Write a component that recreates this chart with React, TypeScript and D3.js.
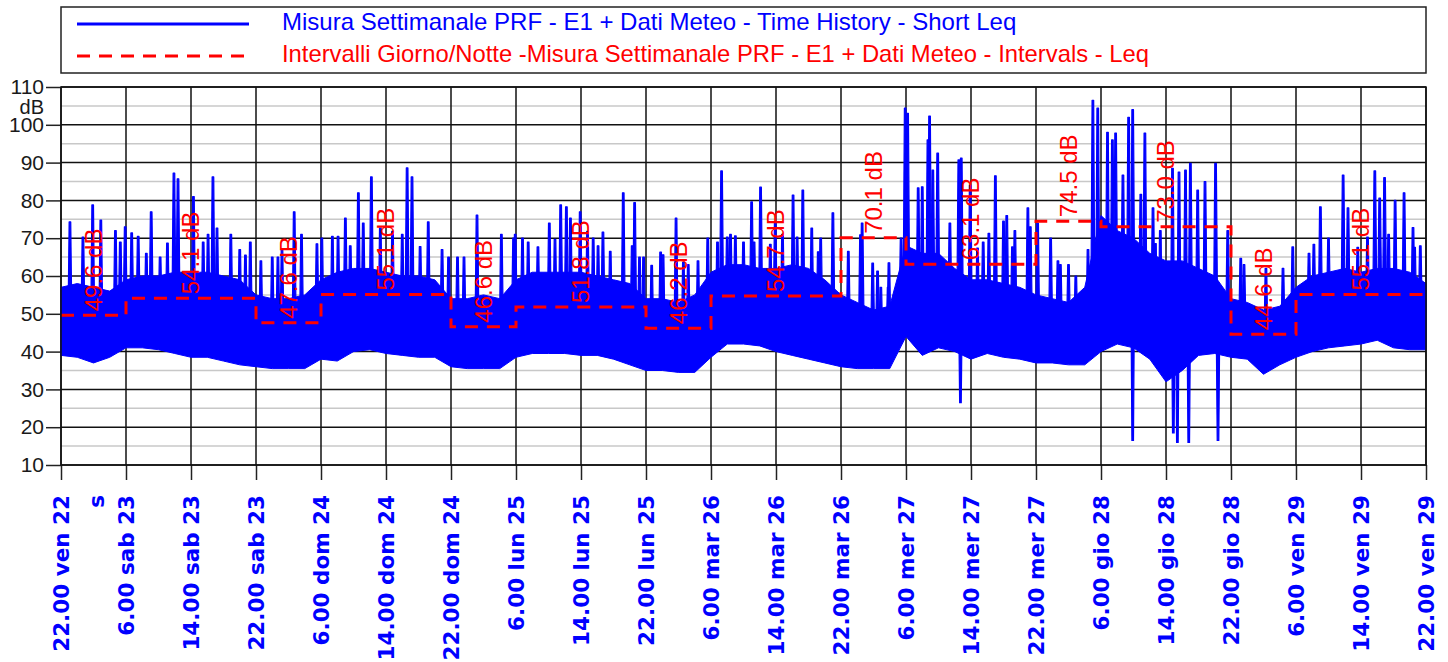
import React, { useEffect, useRef } from 'react';
import * as d3 from 'd3';

// x ticks every 8 hours, starting Fri 22 at 22.00
const tickLabels = [
  '22.00 ven 22', '6.00 sab 23', '14.00 sab 23', '22.00 sab 23', '6.00 dom 24', '14.00 dom 24',
  '22.00 dom 24', '6.00 lun 25', '14.00 lun 25', '22.00 lun 25', '6.00 mar 26', '14.00 mar 26',
  '22.00 mar 26', '6.00 mer 27', '14.00 mer 27', '22.00 mer 27', '6.00 gio 28', '14.00 gio 28',
  '22.00 gio 28', '6.00 ven 29', '14.00 ven 29', '22.00 ven 29',
];

// Short Leq envelope, one value every 2 hours (dB)
const bandLow = [
  39, 38.5, 37, 38.5, 41, 41, 40.5, 39.5, 38.5, 38.5,
  37.5, 36.5, 36, 35.5, 35.5, 35.5, 38, 37.5, 40, 40.5,
  39.5, 39, 38.5, 38.5, 36, 35.5, 35.5, 35.5, 38.5, 39.5,
  39.5, 39.5, 39, 39, 38, 36.5, 35, 35, 34.5, 34.5,
  38.5, 42, 42, 41.5, 40, 39, 38, 37, 36, 35.5,
  35.5, 35.5, 44, 39, 41, 40, 38, 39.5, 38.5, 38,
  37, 37, 36.5, 36.5, 40, 42, 41, 38, 32, 35,
  39, 39.5, 38.5, 38, 34, 36.5, 38.5, 40, 41, 41.5,
  42, 43, 41, 40.5, 40.5,
];
const bandHigh = [
  57, 58, 57, 56, 59, 60, 60, 61, 61, 61,
  60, 59, 55, 54, 54, 55, 59, 61, 62, 62,
  61, 60, 60, 59, 54, 54, 55, 54, 59, 61,
  61, 61, 61, 60, 59, 58, 54, 54, 53, 55,
  61, 63, 63, 62, 62, 63, 62, 59, 55, 53,
  51, 52, 68, 66, 66, 62, 59, 59, 58, 57,
  55, 54, 53, 57, 76, 72, 70, 66, 64, 64,
  62, 60, 54, 53, 51, 52, 57, 60, 61, 62,
  61, 62, 62, 61, 58,
];

// peaks: [hour from start, dB]
const peaks: [number, number][] = [
  [1.1, 74.3], [2.7, 70.3], [3.9, 78.8], [4.9, 74.8], [6.7, 72], [7.3, 69], [7.9, 73], [8.7, 71.4],
  [9.5, 70.5], [10.5, 66], [11.1, 77], [12.2, 65], [13.1, 68.7], [13.9, 87.2], [14.4, 85.7],
  [16.3, 81], [17.5, 69], [18.1, 71], [18.7, 86.2], [19.2, 72.7], [20.9, 71], [22.0, 67],
  [22.7, 65.5], [23.3, 69], [24.6, 64], [26.0, 65], [26.7, 65], [27.2, 66.8], [28.7, 77],
  [29.6, 71], [31.5, 68.5], [32.1, 70], [33.4, 70.5], [34.1, 70.5], [35.0, 75.3], [35.6, 68],
  [36.6, 82], [37.2, 74], [38.2, 86.2], [39.3, 72.7], [40.8, 71.8], [42.0, 71], [42.6, 88.6],
  [43.2, 86.2], [44.2, 67.8], [45.2, 74.3], [46.9, 67], [47.7, 65], [48.8, 65], [49.6, 65],
  [51.2, 76.1], [54.2, 71], [55.7, 70], [55.9, 71], [56.8, 70], [57.5, 69], [58.7, 67.7],
  [60.1, 74], [60.8, 69.7], [61.5, 78.8], [62.2, 78.3], [62.7, 75.3], [63.9, 77], [64.8, 71.8],
  [65.5, 70], [66.1, 68], [66.7, 71.6], [67.6, 66.5], [69.2, 82], [70.3, 68], [70.6, 79.4],
  [71.2, 65], [71.7, 65], [72.7, 62.8], [73.8, 66.3], [74.1, 65.6], [75.7, 75.3], [76.6, 63.6],
  [77.2, 63], [78.4, 64], [79.6, 70], [80.8, 69], [81.3, 87.8], [82.0, 70.3], [82.4, 71],
  [83.0, 70.6], [84.0, 69], [85.0, 79.6], [85.3, 69], [86.1, 83.5], [87.3, 68.4], [87.9, 74],
  [88.8, 71], [90.1, 81.4], [90.6, 70.3], [91.3, 82.7], [92.4, 72.7], [93.2, 66.4], [93.5, 70],
  [95.0, 76.7], [96.9, 66.5], [98.4, 70.9], [98.6, 74], [99.9, 63.4], [100.5, 61.3],
  [100.9, 57], [101.8, 57], [101.9, 63.5], [103.4, 70], [103.9, 104.4], [104.2, 103],
  [105.5, 83.3], [106.0, 83.6], [106.7, 96], [106.9, 102.3], [107.3, 88], [107.9, 92.5],
  [109.4, 74], [110.5, 90.7], [110.8, 91.2], [111.9, 84], [112.8, 67.4], [113.5, 69],
  [114.2, 71.3], [115.0, 86.5], [116.0, 74.5], [116.4, 76], [117.1, 67.7], [117.4, 72],
  [119.0, 78], [119.3, 73], [120.2, 74], [121.8, 70], [122.7, 64], [123.0, 63], [124.0, 63],
  [124.9, 60], [126.4, 67], [127.0, 106.5], [127.6, 104.4], [128.8, 98], [129.4, 96],
  [129.8, 97.8], [130.7, 86.7], [131.4, 102], [131.9, 104], [132.9, 81.6], [133.4, 97.8],
  [134.4, 78], [134.7, 68.6], [135.3, 72], [136.8, 88.5], [137.6, 87.5], [138.4, 88],
  [139.0, 89.8], [139.9, 82.7], [140.8, 85], [142.1, 89.8], [143.6, 72], [145.2, 64.7],
  [145.6, 63], [148.3, 62], [150.4, 62], [151.6, 67.7], [153.6, 66], [154.2, 68.4],
  [155.0, 78.3], [156.0, 70], [157.8, 86.7], [158.4, 78], [159.6, 67.6], [160.8, 70.3],
  [161.7, 87.8], [162.3, 80.6], [162.9, 86], [163.4, 71], [164.2, 80], [165.3, 82],
  [166.4, 72.8], [166.6, 67.6], [167.3, 68],
];

// downward drops: [hour from start, dB]
const drops: [number, number][] = [
  [110.7, 26.5], [131.9, 16.5], [136.9, 18.5], [137.4, 16], [138.8, 16], [142.4, 16.5],
];

// Day / night intervals
const intervalStart = [0, 8, 24, 32, 48, 56, 72, 80, 96, 104, 120, 128, 144, 152];
const intervalLeq = [49.6, 54.1, 47.6, 55.1, 46.6, 51.8, 46.2, 54.7, 70.1, 63.1, 74.5, 73.0, 44.6, 55.1];
const END_HOUR = 168;

const BLUE = '#0000ff';
const RED = '#ff0000';
const SANS = '"Liberation Sans", Arial, sans-serif';

const App: React.FC = () => {
  const svgRef = useRef<SVGSVGElement | null>(null);

  useEffect(() => {
    const svg = d3.select(svgRef.current);
    svg.selectAll('*').remove();

    const left = 61, right = 1426, top = 87, bottom = 465;
    const x = d3.scaleLinear().domain([0, END_HOUR]).range([left, right]);
    const y = d3.scaleLinear().domain([10, 110]).range([bottom, top]);

    // legend
    const lg = svg.append('g');
    lg.append('rect').attr('x', left).attr('y', 7).attr('width', right - left).attr('height', 66)
      .attr('fill', '#fff').attr('stroke', '#222').attr('stroke-width', 1.5);
    lg.append('line').attr('x1', 77).attr('x2', 249).attr('y1', 24).attr('y2', 24)
      .attr('stroke', BLUE).attr('stroke-width', 3);
    lg.append('line').attr('x1', 77).attr('x2', 249).attr('y1', 56).attr('y2', 56)
      .attr('stroke', RED).attr('stroke-width', 3).attr('stroke-dasharray', '13,9');
    lg.append('text').attr('x', 282).attr('y', 22).attr('dy', '0.35em').attr('fill', BLUE)
      .style('font', `24px ${SANS}`)
      .text('Misura Settimanale PRF - E1 + Dati Meteo - Time History - Short Leq');
    lg.append('text').attr('x', 282).attr('y', 54).attr('dy', '0.35em').attr('fill', RED)
      .style('font', `23.8px ${SANS}`)
      .text('Intervalli Giorno/Notte -Misura Settimanale PRF - E1 + Dati Meteo - Intervals - Leq');

    // grid
    const grid = svg.append('g');
    grid.selectAll('.minor').data(d3.range(15, 110, 10)).enter().append('line')
      .attr('x1', left).attr('x2', right).attr('y1', (d) => y(d)).attr('y2', (d) => y(d))
      .attr('stroke', '#c8c8c8').attr('stroke-width', 1.5);
    grid.selectAll('.major').data(d3.range(10, 111, 10)).enter().append('line')
      .attr('x1', left).attr('x2', right).attr('y1', (d) => y(d)).attr('y2', (d) => y(d))
      .attr('stroke', '#111').attr('stroke-width', 1.5);
    grid.selectAll('.vert').data(d3.range(0, END_HOUR + 1, 8)).enter().append('line')
      .attr('x1', (d) => x(d)).attr('x2', (d) => x(d)).attr('y1', top).attr('y2', bottom)
      .attr('stroke', '#111').attr('stroke-width', 1.5);

    // axes
    const yAxis = svg.append('g').attr('transform', `translate(${left},0)`)
      .call(d3.axisLeft(y).tickValues(d3.range(10, 111, 10)).tickSize(15).tickPadding(2));
    yAxis.select('.domain').remove();
    yAxis.selectAll('line').attr('stroke', '#222').attr('stroke-width', 1.5);
    yAxis.selectAll('text').style('font', `21px ${SANS}`).attr('fill', '#1a1a1a');
    svg.append('text').attr('x', 44).attr('y', 106.5).attr('dy', '0.35em').attr('text-anchor', 'end')
      .style('font', `20px ${SANS}`).attr('fill', '#1a1a1a').text('dB');

    const xAxis = svg.append('g').attr('transform', `translate(0,${bottom})`)
      .call(d3.axisBottom(x).tickValues(d3.range(0, END_HOUR + 1, 8)).tickSize(15).tickFormat(() => ''));
    xAxis.select('.domain').remove();
    xAxis.selectAll('line').attr('stroke', '#222').attr('stroke-width', 1.5);

    const xFont = 'bold 21.5px "DejaVu Sans", sans-serif';
    svg.selectAll('.xlab').data(tickLabels).enter().append('text')
      .attr('transform', (d, i) => `translate(${x(i * 8)},495) rotate(-90)`)
      .attr('text-anchor', 'end').attr('dy', '0.35em').attr('fill', BLUE)
      .style('font', xFont).text((d) => d);
    svg.append('text').attr('transform', `translate(${x(4.4)},495) rotate(-90)`)
      .attr('text-anchor', 'end').attr('dy', '0.35em').attr('fill', BLUE)
      .style('font', xFont).text('s');

    // time history
    const plot = svg.append('g');
    const band = d3.area<number>()
      .x((d, i) => x(i * 2))
      .y0((d, i) => y(bandLow[i]))
      .y1((d) => y(d));
    plot.append('path').datum(bandHigh).attr('d', band).attr('fill', BLUE)
      .attr('stroke', BLUE).attr('stroke-width', 1);

    const lowAt = (t: number) => bandLow[Math.min(bandLow.length - 1, Math.round(t / 2))];
    const highAt = (t: number) => bandHigh[Math.min(bandHigh.length - 1, Math.round(t / 2))];
    plot.selectAll('.peak').data(peaks).enter().append('path')
      .attr('d', ([t, v]) => {
        const cx = x(t), b = y(lowAt(t) + 4), p = y(v);
        return `M${cx - 2.2},${b}L${cx - 0.8},${p}L${cx + 0.8},${p}L${cx + 2.2},${b}Z`;
      })
      .attr('fill', BLUE).attr('stroke', BLUE).attr('stroke-width', 1.2).attr('stroke-linejoin', 'round');
    plot.selectAll('.drop').data(drops).enter().append('path')
      .attr('d', ([t, v]) => {
        const cx = x(t), b = y(highAt(t) - 6), p = y(v);
        return `M${cx - 2},${b}L${cx - 0.8},${p}L${cx + 0.8},${p}L${cx + 2},${b}Z`;
      })
      .attr('fill', BLUE).attr('stroke', BLUE).attr('stroke-width', 1.2);

    // day/night Leq
    const stepPts: [number, number][] = intervalStart.map((s, i) => [s, intervalLeq[i]]);
    stepPts.push([END_HOUR, intervalLeq[intervalLeq.length - 1]]);
    const step = d3.line<[number, number]>().x((d) => x(d[0])).y((d) => y(d[1])).curve(d3.curveStepAfter);
    plot.append('path').datum(stepPts).attr('d', step).attr('fill', 'none')
      .attr('stroke', RED).attr('stroke-width', 3).attr('stroke-dasharray', '13,9');

    plot.selectAll('.leq').data(intervalLeq).enter().append('text')
      .attr('transform', (d, i) => {
        const end = i + 1 < intervalStart.length ? intervalStart[i + 1] : END_HOUR;
        return `translate(${x((intervalStart[i] + end) / 2)},${y(d) - 4}) rotate(-90)`;
      })
      .attr('dy', '0.35em').attr('fill', RED).style('font', `24px ${SANS}`)
      .text((d) => `${d.toFixed(1)} dB`);

    // frame
    svg.append('rect').attr('x', left).attr('y', top).attr('width', right - left).attr('height', bottom - top)
      .attr('fill', 'none').attr('stroke', '#111').attr('stroke-width', 1.5);
  }, []);

  return (
    <div style={{ position: 'absolute', left: 0, top: 0 }}>
      <svg ref={svgRef} width={1448} height={662} style={{ display: 'block', background: '#fff' }} />
    </div>
  );
};

export default App;
